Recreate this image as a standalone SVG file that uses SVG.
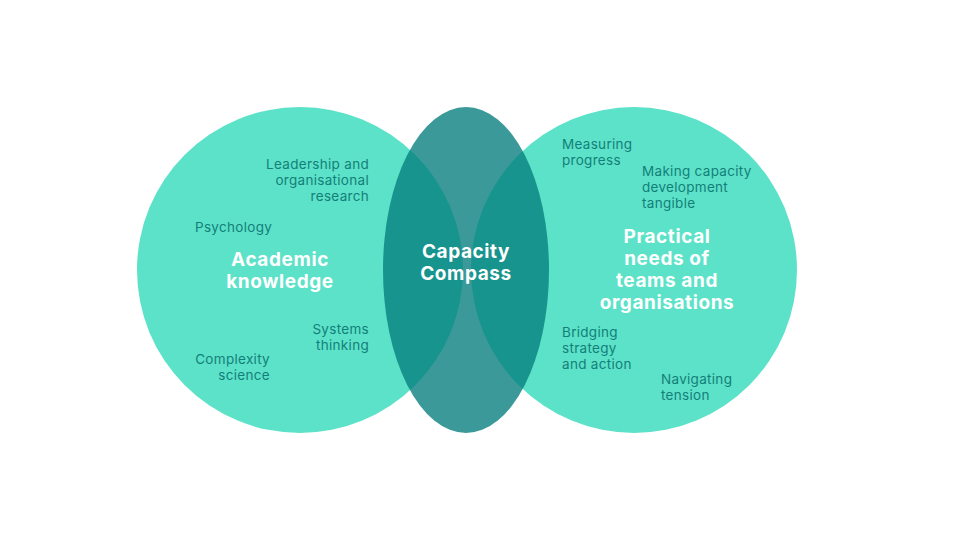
<svg xmlns="http://www.w3.org/2000/svg" width="960" height="540" viewBox="0 0 960 540">
<style>
.circ{fill:#5ce2c8}
.mid{fill:#047e7c;fill-opacity:0.78}
.s{font-family:Inter,"Liberation Sans",sans-serif;font-size:13.5px;letter-spacing:0.3px;fill:#137f7a}
.b{font-family:Inter,"Liberation Sans",sans-serif;font-size:19px;letter-spacing:0.6px;font-weight:700;fill:#ffffff;text-anchor:middle}
.r{text-anchor:end}
</style>
<rect width="960" height="540" fill="#ffffff"/>
<g id="academic">
<circle class="circ" cx="300" cy="270" r="163"/>
</g>
<g id="practical">
<circle class="circ" cx="634" cy="270" r="163"/>
</g>
<g id="compass">
<ellipse class="mid" cx="466" cy="270" rx="83" ry="163"/>
</g>
<g id="connectors"></g>
<g id="labels">
<text class="s r" x="369" y="169">Leadership and</text>
<text class="s r" x="369" y="185">organisational</text>
<text class="s r" x="369" y="201">research</text>
<text class="s" x="195" y="232">Psychology</text>
<text class="b" x="280" y="266">Academic</text>
<text class="b" x="280" y="288">knowledge</text>
<text class="s r" x="369" y="334">Systems</text>
<text class="s r" x="369" y="350">thinking</text>
<text class="s r" x="270" y="364">Complexity</text>
<text class="s r" x="270" y="380">science</text>
<text class="b" x="466" y="258">Capacity</text>
<text class="b" x="466" y="280">Compass</text>
<text class="s" x="562" y="149">Measuring</text>
<text class="s" x="562" y="165">progress</text>
<text class="s" x="642" y="176">Making capacity</text>
<text class="s" x="642" y="192">development</text>
<text class="s" x="642" y="208">tangible</text>
<text class="b" x="667" y="243">Practical</text>
<text class="b" x="667" y="265">needs of</text>
<text class="b" x="667" y="287">teams and</text>
<text class="b" x="667" y="309">organisations</text>
<text class="s" x="562" y="337">Bridging</text>
<text class="s" x="562" y="353">strategy</text>
<text class="s" x="562" y="369">and action</text>
<text class="s" x="661" y="384">Navigating</text>
<text class="s" x="661" y="400">tension</text>
</g>
</svg>
